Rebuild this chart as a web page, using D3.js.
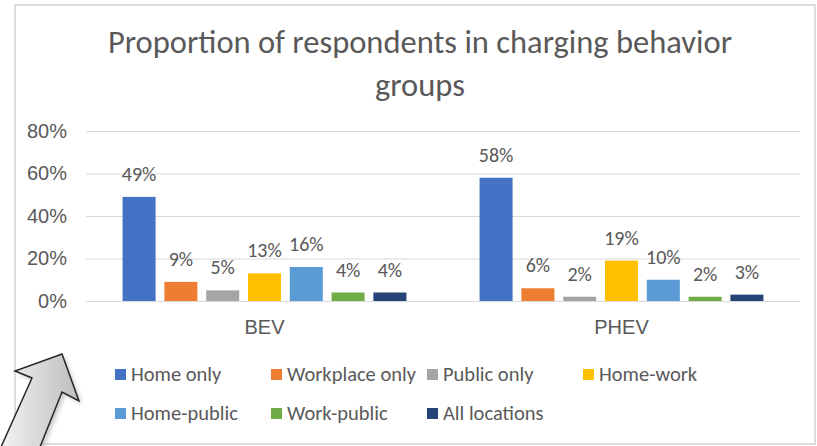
<!DOCTYPE html>
<html>
<head>
<meta charset="utf-8">
<script src="https://cdn.jsdelivr.net/npm/d3@7"></script>
<style>
  body { margin: 0; background: #fff; }
  svg { display: block; font-family: Carlito, Lato, "Open Sans", sans-serif; }
</style>
</head>
<body>
<div id="canvas"></div>
<script>
// data
var groups = ['BEV', 'PHEV'];
var seriesNames = ['Home only', 'Workplace only', 'Public only', 'Home-work', 'Home-public', 'Work-public', 'All locations'];
var bevValues = [49, 9, 5, 13, 16, 4, 4];
var phevValues = [58, 6, 2, 19, 10, 2, 3];
var seriesColors = ['#4472C4', '#ED7D31', '#A5A5A5', '#FFC000', '#5B9BD5', '#70AD47', '#264478'];
var yTicks = [0, 20, 40, 60, 80];
var titleLines = ['Proportion of respondents in charging behavior', 'groups'];

var W = 817, H = 446;
var m = {t: 131, r: 17, b: 145, l: 86};
var w = W - m.l - m.r,
    h = H - m.t - m.b;
var textCol = '#595959';

var svg = d3.select('#canvas')
  .append('svg')
  .attr('width', W)
  .attr('height', H);

// chart frame
svg.append('rect')
  .attr('x', 15).attr('y', 5)
  .attr('width', 800).attr('height', 439)
  .attr('fill', '#fff')
  .attr('stroke', '#dcdcdc')
  .attr('stroke-width', 2);

// title
var title = svg.append('text')
  .attr('text-anchor', 'middle')
  .attr('fill', textCol)
  .style('font-size', '32.5px');
title.selectAll('tspan')
  .data(titleLines)
  .enter()
  .append('tspan')
  .attr('x', 420)
  .attr('y', function(d, i){ return 53 + i * 43; })
  .text(function(d){ return d; });

var plot = svg.append('g')
  .attr('transform', 'translate(' + m.l + ',' + m.t + ')');

// scales
var scaleY = d3.scaleLinear()
  .domain([0, 80])
  .range([h, 0]);

var scaleX = d3.scaleBand()
  .domain(groups)
  .range([0, w]);

var scaleS = d3.scaleBand()
  .domain(seriesNames)
  .range([0, scaleX.bandwidth()])
  .paddingInner(0.21)
  .paddingOuter(0.875);

// y axis with gridlines
var axisY = d3.axisLeft(scaleY)
  .tickValues(yTicks)
  .tickSize(-w)
  .tickPadding(19)
  .tickFormat(function(d){ return d + '%'; });

var gy = plot.append('g').call(axisY);
gy.select('.domain').remove();
gy.selectAll('line').attr('stroke', '#d9d9d9');
gy.selectAll('text')
  .attr('fill', textCol)
  .style('font-size', '20px')
  .style('font-family', null);

// category axis
var axisX = d3.axisBottom(scaleX)
  .tickSize(0)
  .tickPadding(19);

var gx = plot.append('g')
  .attr('transform', 'translate(0,' + h + ')')
  .call(axisX);
gx.select('.domain').remove();
gx.selectAll('text')
  .attr('fill', textCol)
  .style('font-size', '20px')
  .style('font-family', null);

// bars
var rows = groups.map(function(g, gi){
  var vals = gi === 0 ? bevValues : phevValues;
  return seriesNames.map(function(s, si){
    return {group: g, series: s, value: vals[si], color: seriesColors[si]};
  });
});

var groupG = plot.selectAll('.grp')
  .data(rows)
  .enter()
  .append('g')
  .attr('class', 'grp')
  .attr('transform', function(d){ return 'translate(' + scaleX(d[0].group) + ',0)'; });

groupG.selectAll('rect')
  .data(function(d){ return d; })
  .enter()
  .append('rect')
  .attr('x', function(d){ return scaleS(d.series); })
  .attr('y', function(d){ return scaleY(d.value); })
  .attr('width', scaleS.bandwidth())
  .attr('height', function(d){ return h - scaleY(d.value); })
  .attr('fill', function(d){ return d.color; });

groupG.selectAll('.lbl')
  .data(function(d){ return d; })
  .enter()
  .append('text')
  .attr('class', 'lbl')
  .attr('x', function(d){ return scaleS(d.series) + scaleS.bandwidth() / 2; })
  .attr('y', function(d){ return scaleY(d.value) - 16; })
  .attr('text-anchor', 'middle')
  .attr('fill', textCol)
  .style('font-size', '20px')
  .text(function(d){ return d.value + '%'; });

// legend
var legend = svg.selectAll('.leg')
  .data(seriesNames)
  .enter()
  .append('g')
  .attr('class', 'leg')
  .attr('transform', function(d, i){
    return 'translate(' + (115 + (i % 4) * 156) + ',' + (381 + Math.floor(i / 4) * 39) + ')';
  });

legend.append('rect')
  .attr('x', 0).attr('y', -12)
  .attr('width', 11).attr('height', 11)
  .attr('fill', function(d, i){ return seriesColors[i]; });

legend.append('text')
  .attr('x', 16)
  .attr('y', 0)
  .attr('fill', textCol)
  .style('font-size', '20.5px')
  .text(function(d){ return d; });

// grey arrow pasted over the screenshot
var defs = svg.append('defs');
var grad = defs.append('linearGradient')
  .attr('id', 'arrowFill')
  .attr('x1', '0').attr('y1', '0')
  .attr('x2', '1').attr('y2', '0');
grad.append('stop').attr('offset', '0%').attr('stop-color', '#f2f2f2');
grad.append('stop').attr('offset', '100%').attr('stop-color', '#bdbdbd');
defs.append('filter')
  .attr('id', 'arrowShadow')
  .append('feGaussianBlur')
  .attr('stdDeviation', 2);

var arrowPts = [[62, 354], [79, 401], [62, 392], [40, 447], [1, 447], [32, 378], [15, 371]];
var arrowLine = d3.line();

svg.append('path')
  .attr('d', arrowLine(arrowPts) + 'Z')
  .attr('transform', 'translate(3,3)')
  .attr('fill', '#999')
  .attr('opacity', 0.5)
  .attr('filter', 'url(#arrowShadow)');

svg.append('path')
  .attr('d', arrowLine(arrowPts) + 'Z')
  .attr('fill', 'url(#arrowFill)')
  .attr('stroke', '#262626')
  .attr('stroke-width', 1.5)
  .attr('stroke-linejoin', 'miter');
</script>
</body>
</html>
